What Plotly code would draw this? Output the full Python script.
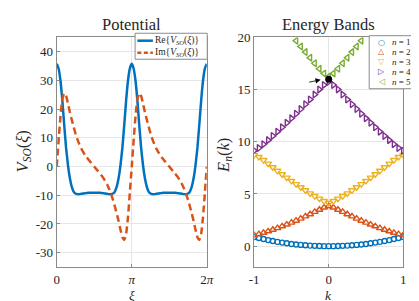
import plotly.graph_objects as go

# ---------------- data: potential (xi in units of pi) ----------------
xi = [0.000, 0.025, 0.050, 0.075, 0.100, 0.125, 0.150, 0.175, 0.200, 0.225,
      0.250, 0.275, 0.300, 0.325, 0.350, 0.375, 0.400, 0.425, 0.450, 0.475,
      0.500, 0.525, 0.550, 0.575, 0.600, 0.625, 0.650, 0.675, 0.700, 0.725,
      0.750, 0.775, 0.800, 0.825, 0.850, 0.875, 0.900, 0.925, 0.950, 0.975,
      1.000, 1.025, 1.050, 1.075, 1.100, 1.125, 1.150, 1.175, 1.200, 1.225,
      1.250, 1.275, 1.300, 1.325, 1.350, 1.375, 1.400, 1.425, 1.450, 1.475,
      1.500, 1.525, 1.550, 1.575, 1.600, 1.625, 1.650, 1.675, 1.700, 1.725,
      1.750, 1.775, 1.800, 1.825, 1.850, 1.875, 1.900, 1.925, 1.950, 1.975,
      2.000]

re_v = [35.8, 34.2, 30.0, 23.0, 14.5, 6.5, 0.5, -4.0, -7.0, -8.7,
        -9.4, -9.6, -9.6, -9.5, -9.4, -9.3, -9.2, -9.1, -9.1, -9.1,
        -9.1, -9.1, -9.1, -9.1, -9.2, -9.3, -9.4, -9.5, -9.6, -9.6,
        -9.4, -8.7, -7.0, -4.0, 0.5, 6.5, 14.5, 23.0, 30.0, 34.2,
        35.8, 34.2, 30.0, 23.0, 14.5, 6.5, 0.5, -4.0, -7.0, -8.7,
        -9.4, -9.6, -9.6, -9.5, -9.4, -9.3, -9.2, -9.1, -9.1, -9.1,
        -9.1, -9.1, -9.1, -9.1, -9.2, -9.3, -9.4, -9.5, -9.6, -9.6,
        -9.4, -8.7, -7.0, -4.0, 0.5, 6.5, 14.5, 23.0, 30.0, 34.2,
        35.8]

im_v = [0.0, 9.0, 17.5, 23.5, 25.6, 24.6, 22.0, 19.0, 16.4, 13.9,
        11.6, 9.6, 7.9, 6.4, 5.2, 4.1, 3.2, 2.4, 1.6, 0.8,
        0.0, -0.8, -1.6, -2.4, -3.2, -4.1, -5.2, -6.4, -7.9, -9.6,
        -11.6, -13.9, -16.4, -19.0, -22.0, -24.6, -25.6, -23.5, -17.5, -9.0,
        0.0, 9.0, 17.5, 23.5, 25.6, 24.6, 22.0, 19.0, 16.4, 13.9,
        11.6, 9.6, 7.9, 6.4, 5.2, 4.1, 3.2, 2.4, 1.6, 0.8,
        0.0, -0.8, -1.6, -2.4, -3.2, -4.1, -5.2, -6.4, -7.9, -9.6,
        -11.6, -13.9, -16.4, -19.0, -22.0, -24.6, -25.6, -23.5, -17.5, -9.0,
        0.0]

# ---------------- data: energy bands ----------------
k = [-1.0, -0.9375, -0.875, -0.8125, -0.75, -0.6875, -0.625, -0.5625,
     -0.5, -0.4375, -0.375, -0.3125, -0.25, -0.1875, -0.125, -0.0625,
     0.0, 0.0625, 0.125, 0.1875, 0.25, 0.3125, 0.375, 0.4375,
     0.5, 0.5625, 0.625, 0.6875, 0.75, 0.8125, 0.875, 0.9375, 1.0]

E1 = [0.88, 0.78, 0.68, 0.58, 0.49, 0.41, 0.34, 0.27, 0.21, 0.16, 0.12,
      0.08, 0.05, 0.03, 0.01, 0.00, 0.00, 0.00, 0.01, 0.03, 0.05, 0.08,
      0.12, 0.16, 0.21, 0.27, 0.34, 0.41, 0.49, 0.58, 0.68, 0.78, 0.88]
E2 = [1.05, 1.15, 1.28, 1.42, 1.57, 1.73, 1.90, 2.07, 2.25, 2.44, 2.64,
      2.85, 3.06, 3.28, 3.49, 3.70, 3.84, 3.70, 3.49, 3.28, 3.06, 2.85,
      2.64, 2.44, 2.25, 2.07, 1.90, 1.73, 1.57, 1.42, 1.28, 1.15, 1.05]
E3 = [8.75, 8.55, 8.25, 7.91, 7.56, 7.22, 6.89, 6.57, 6.25, 5.94, 5.64,
      5.35, 5.06, 4.80, 4.55, 4.32, 4.15, 4.32, 4.55, 4.80, 5.06, 5.35,
      5.64, 5.94, 6.25, 6.57, 6.89, 7.22, 7.56, 7.91, 8.25, 8.55, 8.75]
E4 = [9.15, 9.40, 9.77, 10.16, 10.56, 10.97, 11.39, 11.82, 12.25, 12.69, 13.14,
      13.60, 14.06, 14.53, 15.02, 15.45, 15.75, 15.45, 15.02, 14.53, 14.06, 13.60,
      13.14, 12.69, 12.25, 11.82, 11.39, 10.97, 10.56, 10.16, 9.77, 9.40, 9.15]
k5 = k[9:24]
E5 = [19.69, 19.14, 18.60, 18.06, 17.53, 17.00, 16.55, 16.25,
      16.55, 17.00, 17.53, 18.06, 18.60, 19.14, 19.69]

mark_k = [0.0]
mark_E = [16.0]
arrow_tail = (-0.283, 15.69)
arrow_head = (-0.108, 15.94)

pot_ticks = [-30, -20, -10, 0, 10, 20, 30, 40]
pot_ticktext = ["-30", "-20", "-10", "0", "10", "20", "30", "40"]
xi_ticks = [0, 1, 2]
xi_ticktext = ["0", "<i>π</i>", "2<i>π</i>"]
k_ticks = [-1, 0, 1]
k_ticktext = ["-1", "0", "1"]
E_ticks = [0, 5, 10, 15, 20]
E_ticktext = ["0", "5", "10", "15", "20"]

pot_names = ["Re{<i>V</i><sub><i>SO</i></sub>(<i>ξ</i>)}",
             "Im{<i>V</i><sub><i>SO</i></sub>(<i>ξ</i>)}"]
band_names = ["<i>n</i> = 1", "<i>n</i> = 2", "<i>n</i> = 3", "<i>n</i> = 4", "<i>n</i> = 5"]

colors = ["#0072BD", "#D95319", "#EDB120", "#7E2F8E", "#77AC30"]
FONT = "Liberation Serif"
TXT = "#262626"
BOX = "#8a8a8a"
W, H = 419, 301


def px(x):
    return x / W


def py(y):
    return 1 - y / H


fig = go.Figure()

fig.add_trace(go.Scatter(
    x=xi, y=re_v, mode="lines", xaxis="x", yaxis="y", name=pot_names[0],
    line=dict(color=colors[0], width=2.5, shape="spline", smoothing=0.4)))
fig.add_trace(go.Scatter(
    x=xi, y=im_v, mode="lines", xaxis="x", yaxis="y", name=pot_names[1],
    line=dict(color=colors[1], width=2.5, dash="7px,4px", shape="spline", smoothing=0.4)))

bands = [(k, E1, "circle-open", 5), (k, E2, "triangle-up-open", 6),
         (k, E3, "triangle-down-open", 6), (k, E4, "triangle-right-open", 6),
         (k5, E5, "triangle-left-open", 6)]
for i, (kk, ee, sym, sz) in enumerate(bands):
    fig.add_trace(go.Scatter(
        x=kk, y=ee, mode="markers", xaxis="x2", yaxis="y2", name=band_names[i],
        marker=dict(symbol=sym, size=sz, color=colors[i], line=dict(width=1.4, color=colors[i]))))

fig.add_trace(go.Scatter(
    x=mark_k, y=mark_E, mode="markers", xaxis="x2", yaxis="y2", name="marked point",
    marker=dict(symbol="circle", size=7, color="black")))

x1d = [px(45), px(199.5)]
x2d = [px(248.3), px(401.7)]
yd = [py(258), py(23)]

axcommon = dict(showgrid=True, gridcolor="#e6e6e6", gridwidth=1, showline=True,
                linecolor=BOX, linewidth=1, mirror=True, ticks="inside",
                ticklen=3, tickcolor=BOX, zeroline=False,
                tickfont=dict(family=FONT, size=13, color=TXT))

fig.update_layout(
    width=W, height=H, margin=dict(l=0, r=0, t=0, b=0),
    paper_bgcolor="white", plot_bgcolor="white",
    font=dict(family=FONT, color=TXT), showlegend=False,
    xaxis=dict(domain=x1d, range=[0, 2], tickvals=xi_ticks, ticktext=xi_ticktext,
               anchor="y", **axcommon),
    yaxis=dict(domain=yd, range=[-35, 45], tickvals=pot_ticks, ticktext=pot_ticktext,
               anchor="x", **axcommon),
    xaxis2=dict(domain=x2d, range=[-1, 1], tickvals=k_ticks, ticktext=k_ticktext,
                anchor="y2", **axcommon),
    yaxis2=dict(domain=yd, range=[-2, 20], tickvals=E_ticks, ticktext=E_ticktext,
                anchor="x2", **axcommon),
)

# titles
for text, x in [("Potential", (x1d[0] + x1d[1]) / 2),
                ("Energy Bands", (x2d[0] + x2d[1]) / 2)]:
    fig.add_annotation(text=text, x=x, y=py(10), xref="paper", yref="paper",
                       xanchor="center", yanchor="middle", showarrow=False, borderpad=0,
                       font=dict(family=FONT, size=16.5, color=TXT))
# x-axis labels (bottom-anchored so they stay inside the page)
for text, x in [("<i>ξ</i>", (x1d[0] + x1d[1]) / 2),
                ("<i>k</i>", (x2d[0] + x2d[1]) / 2)]:
    fig.add_annotation(text=text, x=x, y=py(296), xref="paper", yref="paper",
                       xanchor="center", yanchor="bottom", showarrow=False, borderpad=0,
                       font=dict(family=FONT, size=13.5, color=TXT))
fig.add_annotation(text="<i>V</i><sub><i>SO</i></sub>(<i>ξ</i>)", x=px(10), y=py(140),
                   xref="paper", yref="paper", textangle=-90, showarrow=False,
                   xanchor="center", yanchor="middle",
                   font=dict(family=FONT, size=16.5, color=TXT))
fig.add_annotation(text="<i>E</i><sub><i>n</i></sub>(<i>k</i>)", x=px(216.5), y=py(144),
                   xref="paper", yref="paper", textangle=-90, showarrow=False,
                   xanchor="center", yanchor="middle",
                   font=dict(family=FONT, size=16.5, color=TXT))

# arrow to the marked point
fig.add_annotation(text="", x=arrow_head[0], y=arrow_head[1], xref="x2", yref="y2",
                   ax=arrow_tail[0], ay=arrow_tail[1], axref="x2", ayref="y2",
                   showarrow=True, arrowhead=2, arrowsize=1.3, arrowwidth=0.8,
                   arrowcolor="black", standoff=0)

# ---- legend: potential panel ----
fig.add_shape(type="rect", xref="paper", yref="paper", layer="above",
              x0=px(125.7), x1=px(200), y0=py(45.3), y1=py(18.7),
              line=dict(color=BOX, width=1), fillcolor="white")
leg1_rows = [26.3, 38.7]
leg1_dash = ["solid", "4px,2.5px"]
for i, yy in enumerate(leg1_rows):
    fig.add_shape(type="line", xref="paper", yref="paper", layer="above",
                  x0=px(128), x1=px(144), y0=py(yy), y1=py(yy),
                  line=dict(color=colors[i], width=2.5, dash=leg1_dash[i]))
    fig.add_annotation(text=pot_names[i], x=px(145), y=py(yy), xref="paper", yref="paper",
                       xanchor="left", yanchor="middle", showarrow=False, borderpad=0,
                       font=dict(family=FONT, size=9.5, color=TXT))

# ---- legend: energy-band panel ----
fig.add_shape(type="rect", xref="paper", yref="paper", layer="above",
              x0=px(366.7), x1=px(415), y0=py(75.5), y1=py(21.2),
              line=dict(color=BOX, width=1), fillcolor="white")
leg2_rows = [27.7, 37.8, 47.9, 58.0, 68.1]
leg2_glyph = ["○", "△", "▽", "▷", "◁"]
for i, yy in enumerate(leg2_rows):
    fig.add_annotation(text="<b>" + leg2_glyph[i] + "</b>", x=px(379), y=py(yy),
                       xref="paper", yref="paper", xanchor="center", yanchor="middle",
                       showarrow=False, borderpad=0,
                       font=dict(family="DejaVu Sans", size=8, color=colors[i]))
    fig.add_annotation(text=band_names[i], x=px(389), y=py(yy), xref="paper", yref="paper",
                       xanchor="left", yanchor="middle", showarrow=False, borderpad=0,
                       font=dict(family=FONT, size=9, color=TXT))

fig.write_html("out.html")
